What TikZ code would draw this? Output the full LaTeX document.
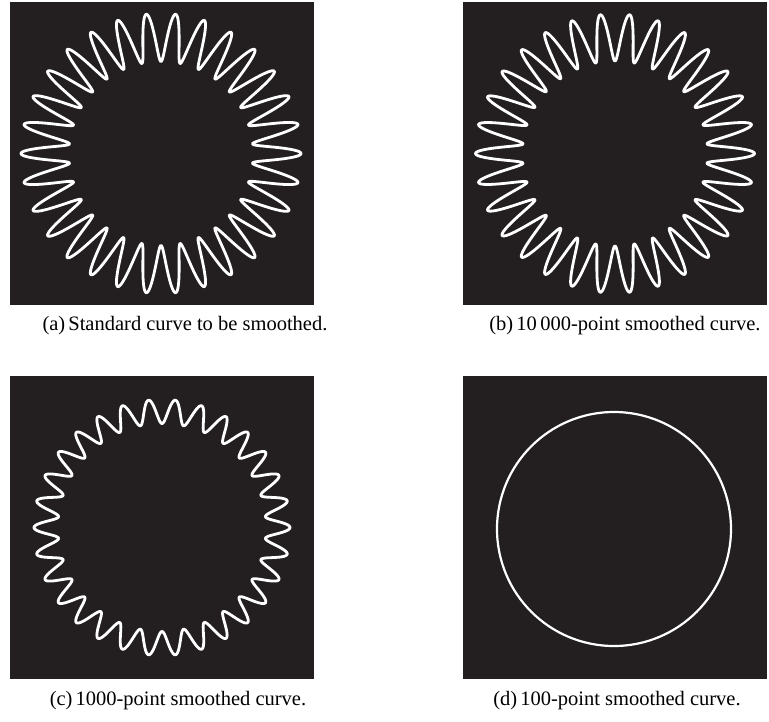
\documentclass[tikz,border=0pt]{standalone}
\usepackage{fontspec}
\setmainfont{Liberation Serif}
\definecolor{panelbg}{HTML}{231F20}
\begin{document}
\begin{tikzpicture}[x=1pt,y=-1pt,
  panel/.style={fill=panelbg,draw=none},
  wave/.style={draw=white,line width=2.8pt,line join=round},
  ring/.style={draw=white,line width=2.2pt},
  captext/.style={font=\fontsize{20.5}{24}\selectfont,inner sep=0pt,anchor=base}]
\useasboundingbox (0,0) rectangle (769,721);
% panels
\path[panel] (10,2) rectangle (314,305);
\path[panel] (463,2) rectangle (767,305);
\path[panel] (10,376) rectangle (314,679);
\path[panel] (463,376) rectangle (767,679);
% (a) standard curve
\draw[wave] plot[domain=0:360,samples=1201,variable=\t]
  ({161+(116+24*cos(30*\t))*cos(\t)},{153.5+(116+24*cos(30*\t))*sin(\t)}) -- cycle;
% (b) 10000-point smoothed
\draw[wave] plot[domain=0:360,samples=1201,variable=\t]
  ({615+(116+23.5*cos(30*\t))*cos(\t)},{153.5+(116+23.5*cos(30*\t))*sin(\t)}) -- cycle;
% (c) 1000-point smoothed
\draw[wave] plot[domain=0:360,samples=1201,variable=\t]
  ({162+(116+12*cos(30*\t))*cos(\t)},{527.5+(116+12*cos(30*\t))*sin(\t)}) -- cycle;
% (d) 100-point smoothed
\draw[ring] (614,529) circle[radius=117];
% captions
\node[captext] (capa) at (185,330) {(a)\hspace{0.15em}Standard curve to be smoothed.};
\node[captext] (capb) at (625,330) {(b)\hspace{0.15em}10\,000-point smoothed curve.};
\node[captext] (capc) at (178,705) {(c)\hspace{0.15em}1000-point smoothed curve.};
\node[captext] (capd) at (617,705) {(d)\hspace{0.15em}100-point smoothed curve.};
\end{tikzpicture}
\end{document}
